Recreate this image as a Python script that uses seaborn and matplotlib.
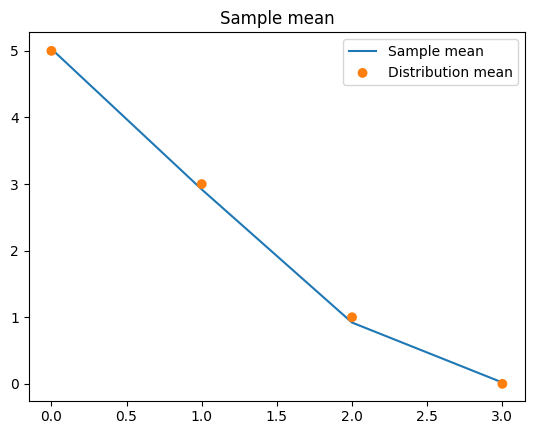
import numpy as np
import matplotlib
matplotlib.use("Agg")
import matplotlib.pyplot as plt
import seaborn as sns

# datos
x_vals = [0, 1, 2, 3]
sample_mean = [5.03, 2.92, 0.92, 0.02]
dist_mean = [5, 3, 1, 0]

fig, ax = plt.subplots(figsize=(5.34, 4.34), dpi=100)

sns.lineplot(x=x_vals, y=sample_mean, ax=ax, color="#1f77b4", label="Sample mean")
sns.scatterplot(x=x_vals, y=dist_mean, ax=ax, color="#ff7f0e", s=50,
                edgecolor="none", label="Distribution mean", zorder=3)

ax.set_title("Sample mean")
ax.legend(loc="upper right")

fig.subplots_adjust(left=0.054, right=0.983, top=0.926, bottom=0.077)
fig.savefig("out.png", dpi=100)
